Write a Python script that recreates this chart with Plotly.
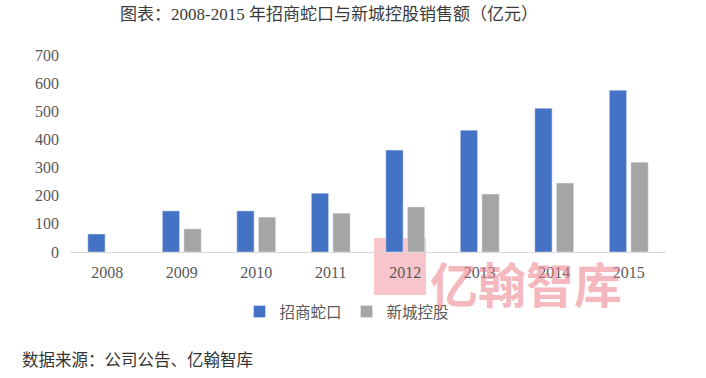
import plotly.graph_objects as go

years = ["2008", "2009", "2010", "2011", "2012", "2013", "2014", "2015"]
cmsk = [64, 146, 146, 209, 362, 433, 511, 575]
xincheng = [None, 82, 124, 138, 160, 206, 245, 319]
series_names = ["招商蛇口", "新城控股"]
y_ticks = [0, 100, 200, 300, 400, 500, 600, 700]

FONT = "Liberation Serif, 'Noto Sans CJK SC', serif"

W, H = 706, 378
L, R, T, B = 70, 40, 55, 126
PW, PH = W - L - R, H - T - B


def px(x):  # window pixel x -> paper
    return (x - L) / PW


def py(y):  # window pixel y -> paper
    return (H - B - y) / PH


fig = go.Figure()
fig.add_trace(go.Bar(x=years, y=cmsk, name=series_names[0], marker_color="#4472C4"))
fig.add_trace(go.Bar(x=years, y=xincheng, name=series_names[1], marker_color="#A5A5A5"))

fig.update_layout(
    width=W, height=H,
    margin=dict(l=L, r=R, t=T, b=B),
    paper_bgcolor="white", plot_bgcolor="white",
    barmode="group", bargap=0.42, bargroupgap=0.2,
    font=dict(family=FONT, size=14, color="#595959"),
    title=dict(
        text="图表：2008-2015 年招商蛇口与新城控股销售额（亿元）",
        x=329 / W, xref="container", xanchor="center",
        y=1 - 14 / H, yref="container", yanchor="middle",
        font=dict(family=FONT, size=17, color="#3a3a3a"),
    ),
    legend=dict(
        orientation="h", x=px(347), xanchor="center", y=py(312), yanchor="middle",
        font=dict(family=FONT, size=15.5, color="#595959"),
        itemwidth=30, traceorder="normal",
    ),
    showlegend=True,
)

fig.update_xaxes(
    showgrid=False, showline=True, linecolor="#D9D9D9", linewidth=1,
    ticks="", ticklabelstandoff=6,
    tickfont=dict(family=FONT, size=16, color="#595959"),
)
fig.update_yaxes(
    range=[0, 700], tickvals=y_ticks, showgrid=False, zeroline=False,
    showline=False, ticks="", ticklabelstandoff=10,
    tickfont=dict(family=FONT, size=16, color="#595959"),
)

fig.add_annotation(
    text="数据来源：公司公告、亿翰智库", xref="paper", yref="paper",
    x=px(20), y=py(360), xanchor="left", yanchor="middle", showarrow=False,
    font=dict(family=FONT, size=16.5, color="#333333"),
)
# watermark
fig.add_annotation(
    text="<b>亿翰智库</b>", xref="paper", yref="paper",
    x=px(428), y=py(282), xanchor="left", yanchor="middle",
    showarrow=False, opacity=0.55,
    font=dict(family="'Noto Sans CJK SC', sans-serif", size=48, color="#EE7F8C"),
)
fig.add_shape(
    type="path", xref="paper", yref="paper", layer="below",
    path="M {0},{1} L {2},{1} L {2},{3} Q {4},{5} {0},{3} Z".format(
        px(374), py(238), px(426), py(300), px(400), py(325)),
    fillcolor="#EE7F8C", opacity=0.45, line=dict(width=0),
)

# remove the default 8px body margin so the figure fills the window exactly
fig.write_html("out.html", config={"displayModeBar": False},
               post_script="document.body.style.margin='0';")
